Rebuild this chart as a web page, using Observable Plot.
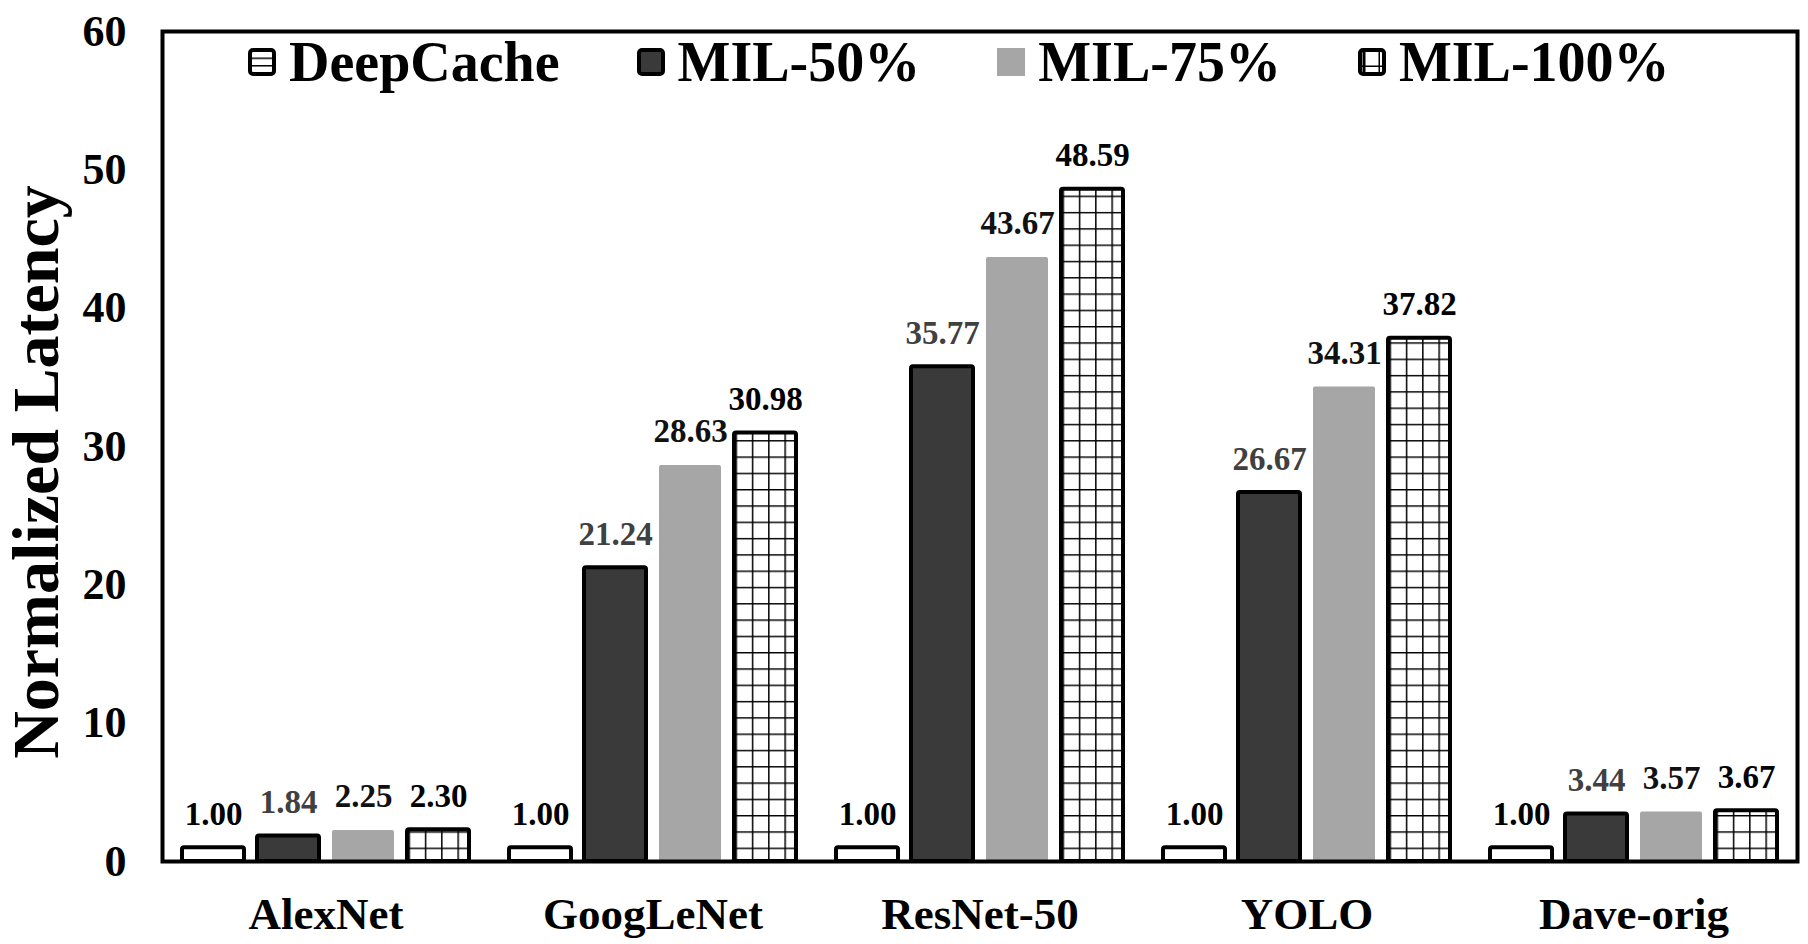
<!DOCTYPE html>
<html>
<head>
<meta charset="utf-8">
<script src="https://cdn.jsdelivr.net/npm/d3@7"></script>
<script src="https://cdn.jsdelivr.net/npm/@observablehq/plot@0.6"></script>
<style>
  html, body { margin: 0; padding: 0; background: #fff; }
  #wrap { position: relative; width: 1808px; height: 944px; font-family: "Liberation Serif", "Times New Roman", serif; font-weight: bold; }
  #legend { position: absolute; left: 248px; top: 30px; display: flex; align-items: center; gap: 77px; font-size: 56px; line-height: 64px; color: #000; }
  .item { display: flex; align-items: center; gap: 13px; }
  .item svg { display: block; }
  #ytitle { position: absolute; left: 36px; top: 472px; transform: translate(-50%, -50%) rotate(-90deg); font-size: 66px; white-space: nowrap; color: #000; }
</style>
</head>
<body>
<svg width="0" height="0" style="position:absolute">
  <defs>
    <pattern id="grid" patternUnits="userSpaceOnUse" width="16.3" height="16.3" x="0" y="0">
      <rect width="16.3" height="16.3" fill="#fff"/>
      <path d="M0 0H16.3M0 0V16.3" stroke="#000" stroke-width="3"/>
    </pattern>
    <pattern id="hlines" patternUnits="userSpaceOnUse" width="28" height="7.5" x="0" y="2">
      <rect width="28" height="7.5" fill="#fff"/>
      <path d="M0 0H28" stroke="#000" stroke-width="3"/>
    </pattern>
    <pattern id="gridSmall" patternUnits="userSpaceOnUse" width="20" height="20" x="2" y="-1">
      <rect width="20" height="20" fill="#fff"/>
      <path d="M4 0V20M20 0V20M0 20H20" stroke="#000" stroke-width="3"/>
    </pattern>
  </defs>
</svg>
<div id="wrap">
  <div id="chart"></div>
  <div id="legend"></div>
  <div id="ytitle">Normalized Latency</div>
</div>
<script>
const categories = ["AlexNet", "GoogLeNet", "ResNet-50", "YOLO", "Dave-orig"];
const seriesNames = ["DeepCache", "MIL-50%", "MIL-75%", "MIL-100%"];
const deepCache = [1.00, 1.00, 1.00, 1.00, 1.00];
const mil50 = [1.84, 21.24, 35.77, 26.67, 3.44];
const mil75 = [2.25, 28.63, 43.67, 34.31, 3.57];
const mil100 = [2.30, 30.98, 48.59, 37.82, 3.67];
const yTicks = [0, 10, 20, 30, 40, 50, 60];

const seriesValues = [deepCache, mil50, mil75, mil100];
const styles = {
  "DeepCache": {fill: "#ffffff", stroke: "#000", label: "#000", icon: "url(#hlines)"},
  "MIL-50%": {fill: "#3a3a3a", stroke: "#000", label: "#404040", icon: "#3a3a3a"},
  "MIL-75%": {fill: "#a6a6a6", stroke: "none", label: "#111", icon: "#a6a6a6"},
  "MIL-100%": {fill: "url(#grid)", stroke: "#000", label: "#000", icon: "url(#gridSmall)"}
};

const data = [];
seriesNames.forEach((s, si) => {
  categories.forEach((c, ci) => data.push({cat: c, series: s, value: seriesValues[si][ci]}));
});

const marks = [];
for (const s of seriesNames) {
  const st = styles[s];
  const sub = data.filter(d => d.series === s);
  marks.push(Plot.barY(sub, {
    fx: "cat", x: "series", y: "value",
    fill: st.fill, stroke: st.stroke, strokeWidth: 4, strokeLinejoin: "round", rx: 2
  }));
  marks.push(Plot.text(sub, {
    fx: "cat", x: "series", y: "value",
    text: d => d.value.toFixed(2),
    lineAnchor: "bottom", dy: -23,
    fill: st.label, fontSize: 33, fontWeight: "bold"
  }));
}

const chart = Plot.plot({
  width: 1808,
  height: 944,
  marginLeft: 161,
  marginRight: 11,
  marginTop: 31,
  marginBottom: 83,
  style: {fontFamily: "Liberation Serif, Times New Roman, serif", background: "#fff", color: "#000"},
  fx: {domain: categories, padding: 0, label: null},
  x: {domain: seriesNames, paddingInner: 0.18, paddingOuter: 0.255, axis: null},
  y: {domain: [0, 60], axis: null},
  marks: [
    Plot.axisY({ticks: yTicks, tickSize: 0, tickPadding: 36, fontSize: 44, fontWeight: "bold", label: null, tickFormat: d => String(d)}),
    Plot.axisFx({anchor: "bottom", tickSize: 0, tickPadding: 36, fontSize: 45, fontWeight: "bold", label: null}),
    ...marks,
    Plot.frame({facet: "super", stroke: "#000", strokeWidth: 4})
  ]
});
document.getElementById("chart").appendChild(chart);

const legend = document.getElementById("legend");
for (const s of seriesNames) {
  const st = styles[s];
  const item = document.createElement("div");
  item.className = "item";
  const sw = d3.create("svg").attr("width", 28).attr("height", 28);
  sw.append("rect").attr("x", 2).attr("y", 2).attr("width", 24).attr("height", 24)
    .attr("rx", 3).attr("fill", st.icon).attr("stroke", st.stroke === "none" ? "none" : "#000").attr("stroke-width", 4);
  if (st.stroke === "none") sw.select("rect").attr("x", 0).attr("y", 0).attr("width", 28).attr("height", 28).attr("rx", 0);
  item.appendChild(sw.node());
  const t = document.createElement("span");
  t.textContent = s;
  item.appendChild(t);
  legend.appendChild(item);
}
</script>
</body>
</html>
